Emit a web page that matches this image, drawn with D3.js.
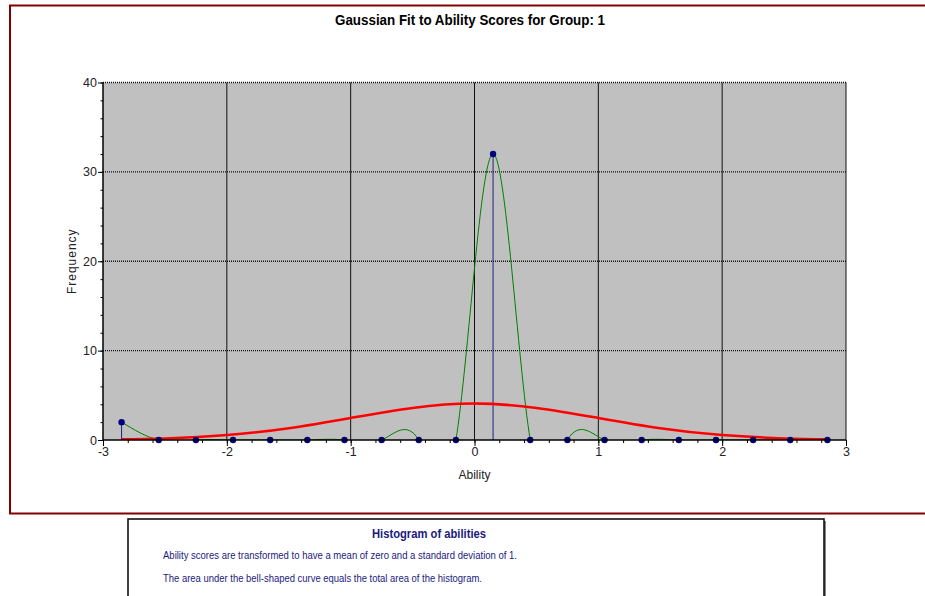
<!DOCTYPE html>
<html>
  <head>
    <meta charset="utf-8">
    <script src="https://d3js.org/d3.v7.min.js"></script>
    <title>Gaussian Fit to Ability Scores</title>
    <style>
      body { margin: 0px; background: #fff; }
      .narrow { font-family: "Liberation Sans Narrow", "Arial Narrow", "Liberation Sans", Arial, sans-serif; }
      .title { font-size: 14px; font-weight: bold; fill: #000; }
      .tick text { font-family: "Liberation Sans", Arial, sans-serif; font-size: 12.5px; fill: #222; }
      .axis-label { font-family: "Liberation Sans", Arial, sans-serif; font-size: 12px; fill: #222; }
      .note { font-size: 11.5px; fill: #1a1a80; }
      .note-title { font-size: 13px; font-weight: bold; fill: #1a1a80; }
    </style>
  </head>
  <body>
    <svg width="925" height="596"></svg>
    <script>
      // bin centres and frequencies of the ability histogram
      const binCenters = [-2.85, -2.55, -2.25, -1.95, -1.65, -1.35, -1.05, -0.75, -0.45, -0.15,
                          0.15, 0.45, 0.75, 1.05, 1.35, 1.65, 1.95, 2.25, 2.55, 2.85];
      const freq = [2, 0, 0, 0, 0, 0, 0, 0, 0, 0,
                    32, 0, 0, 0, 0, 0, 0, 0, 0, 0];

      // fitted bell curve
      const fitX = [-2.85, -2.5, -2, -1.5, -1, -0.5, 0, 0.5, 1, 1.5, 2, 2.5, 2.85];
      const fitY = [0.07, 0.18, 0.55, 1.32, 2.47, 3.59, 4.07, 3.59, 2.47, 1.32, 0.55, 0.18, 0.07];

      const xMajor = [-3, -2, -1, 0, 1, 2, 3];
      const yMajor = [0, 10, 20, 30, 40];

      const svg = d3.select('svg');
      const margin = { left: 103, top: 82.5, right: 79, bottom: 156 };
      const width = +svg.attr('width');
      const height = +svg.attr('height');
      const innerWidth = width - margin.left - margin.right;
      const innerHeight = height - margin.top - margin.bottom;

      // outer frame
      svg.append('rect')
          .attr('x', 10).attr('y', 5.5)
          .attr('width', 940).attr('height', 508)
          .attr('fill', 'none')
          .attr('stroke', '#800000')
          .attr('stroke-width', 2);

      svg.append('text')
          .attr('class', 'title narrow')
          .attr('x', 335).attr('y', 25)
          .attr('textLength', 270)
          .attr('lengthAdjust', 'spacingAndGlyphs')
          .text('Gaussian Fit to Ability Scores for Group: 1');

      const g = svg.append('g')
          .attr('transform', `translate(${margin.left},${margin.top})`);

      const xScale = d3.scaleLinear().domain([-3, 3]).range([0, innerWidth]);
      const yScale = d3.scaleLinear().domain([0, 40]).range([innerHeight, 0]);

      g.append('rect')
          .attr('width', innerWidth).attr('height', innerHeight)
          .attr('fill', '#c0c0c0');

      g.append('clipPath').attr('id', 'clip')
        .append('rect').attr('width', innerWidth).attr('height', innerHeight);

      // grid
      g.selectAll('.hgrid').data(yMajor.slice(1))
        .enter().append('line')
          .attr('class', 'hgrid')
          .attr('x1', 0).attr('x2', innerWidth)
          .attr('y1', d => yScale(d)).attr('y2', d => yScale(d))
          .attr('stroke', '#111')
          .attr('stroke-width', 1.3)
          .attr('stroke-dasharray', '1,1');

      g.selectAll('.vgrid').data(xMajor.slice(1))
        .enter().append('line')
          .attr('class', 'vgrid')
          .attr('x1', d => xScale(d)).attr('x2', d => xScale(d))
          .attr('y1', 0).attr('y2', innerHeight)
          .attr('stroke', '#111')
          .attr('stroke-width', 1);

      const plot = g.append('g').attr('clip-path', 'url(#clip)');

      const points = binCenters.map((x, i) => ({ x, y: freq[i] }));
      const fit = fitX.map((x, i) => ({ x, y: fitY[i] }));

      const line = d3.line()
          .x(d => xScale(d.x))
          .y(d => yScale(d.y));

      // stems
      plot.selectAll('.stem').data(points.filter(d => d.y > 0))
        .enter().append('line')
          .attr('x1', d => xScale(d.x)).attr('x2', d => xScale(d.x))
          .attr('y1', d => yScale(d.y)).attr('y2', yScale(0))
          .attr('stroke', '#202080')
          .attr('stroke-width', 1);

      plot.append('path')
          .datum(points)
          .attr('d', line.curve(d3.curveNatural))
          .attr('fill', 'none')
          .attr('stroke', '#008000')
          .attr('stroke-width', 1);

      plot.append('path')
          .datum(fit)
          .attr('d', line.curve(d3.curveNatural))
          .attr('fill', 'none')
          .attr('stroke', '#ff0000')
          .attr('stroke-width', 2.5);

      g.selectAll('.pt').data(points)
        .enter().append('circle')
          .attr('cx', d => xScale(d.x))
          .attr('cy', d => yScale(d.y))
          .attr('r', 3.2)
          .attr('fill', '#000080');

      // axes: minor ticks in their own groups, then the labelled major ticks
      const xMinor = d3.range(-3, 3.001, 0.2);
      const yMinor = d3.range(0, 40.001, 2);

      g.append('g')
          .attr('class', 'minor')
          .attr('transform', `translate(0,${innerHeight})`)
          .call(d3.axisBottom(xScale).tickValues(xMinor).tickSize(3).tickFormat(''))
          .selectAll('text').remove();

      g.append('g')
          .attr('class', 'minor')
          .call(d3.axisLeft(yScale).tickValues(yMinor).tickSize(2.5).tickFormat(''))
          .selectAll('text').remove();

      const xAxisG = g.append('g')
          .attr('transform', `translate(0,${innerHeight})`)
          .call(d3.axisBottom(xScale).tickValues(xMajor).tickSize(6).tickPadding(1).tickFormat(d => String(d)));

      const yAxisG = g.append('g')
          .call(d3.axisLeft(yScale).tickValues(yMajor).tickSize(5).tickPadding(1).tickFormat(d => String(d)));

      g.selectAll('.domain').attr('stroke', '#000').attr('stroke-width', 1.5);
      g.selectAll('.tick line').attr('stroke', '#000');
      g.selectAll('.minor .domain').remove();
      xAxisG.selectAll('.domain').attr('d', `M0,0H${innerWidth}`);
      yAxisG.selectAll('.domain').attr('d', `M0,0V${innerHeight}`);

      xAxisG.append('text')
          .attr('class', 'axis-label')
          .attr('x', xScale(0)).attr('y', 39)
          .attr('text-anchor', 'middle')
          .text('Ability');

      yAxisG.append('text')
          .attr('class', 'axis-label')
          .attr('transform', `translate(-27,${innerHeight / 2}) rotate(-90)`)
          .attr('text-anchor', 'middle')
          .style('letter-spacing', '1px')
          .text('Frequency');

      // note box
      const box = svg.append('g');
      box.append('rect')
          .attr('x', 130).attr('y', 521)
          .attr('width', 696).attr('height', 90)
          .attr('fill', '#888');
      box.append('rect')
          .attr('x', 128).attr('y', 519)
          .attr('width', 696).attr('height', 90)
          .attr('fill', '#fff')
          .attr('stroke', '#000')
          .attr('stroke-width', 1.5);
      box.append('text')
          .attr('class', 'note-title narrow')
          .attr('x', 372).attr('y', 538)
          .attr('textLength', 114)
          .attr('lengthAdjust', 'spacingAndGlyphs')
          .text('Histogram of abilities');
      box.append('text')
          .attr('class', 'note narrow')
          .attr('x', 163).attr('y', 559)
          .attr('textLength', 354)
          .attr('lengthAdjust', 'spacingAndGlyphs')
          .text('Ability scores are transformed to have a mean of zero and a standard deviation of 1.');
      box.append('text')
          .attr('class', 'note narrow')
          .attr('x', 163).attr('y', 582)
          .attr('textLength', 319)
          .attr('lengthAdjust', 'spacingAndGlyphs')
          .text('The area under the bell-shaped curve equals the total area of the histogram.');
    </script>
  </body>
</html>
